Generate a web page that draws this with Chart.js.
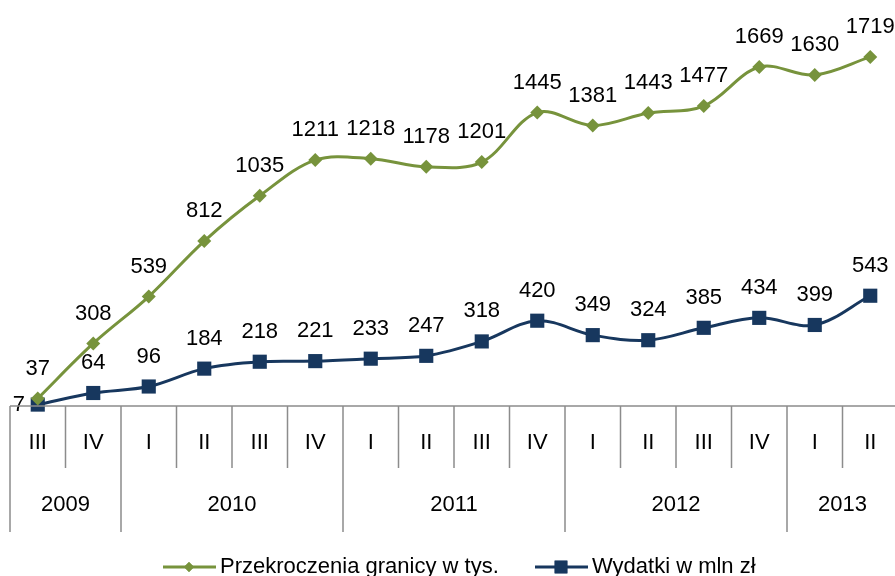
<!DOCTYPE html>
<html>
<head>
<meta charset="utf-8">
<script src="https://cdn.jsdelivr.net/npm/chart.js@4.4.1/dist/chart.umd.min.js"></script>
<style>
  html, body { margin: 0; padding: 0; background: #fff; overflow: hidden; }
  canvas { display: block; }
</style>
</head>
<body>
<canvas id="chart" width="908" height="576"></canvas>
<script>
// data
const quarters = ['III', 'IV', 'I', 'II', 'III', 'IV', 'I', 'II', 'III', 'IV', 'I', 'II', 'III', 'IV', 'I', 'II'];
const years = ['2009', '2010', '2011', '2012', '2013'];
const yearSpans = [2, 4, 4, 4, 2]; // quarters per year
const crossings = [37, 308, 539, 812, 1035, 1211, 1218, 1178, 1201, 1445, 1381, 1443, 1477, 1669, 1630, 1719];
const spending = [7, 64, 96, 184, 218, 221, 233, 247, 318, 420, 349, 324, 385, 434, 399, 543];

const GREEN = '#77933c';
const NAVY = '#17375e';
const FONT = '"Liberation Sans", Arial, sans-serif';
const GRID = '#8c8c8c';

// value labels above the points
const valueLabels = {
    id: 'valueLabels',
    afterDatasetsDraw(chart) {
        const ctx = chart.ctx;
        ctx.save();
        ctx.font = '22px ' + FONT;
        ctx.fillStyle = '#000';
        ctx.textAlign = 'center';
        ctx.textBaseline = 'middle';
        chart.data.datasets.forEach((ds, di) => {
            chart.getDatasetMeta(di).data.forEach((pt, i) => {
                if (di === 1 && i === 0) {
                    ctx.fillText(ds.data[i], pt.x - 19, pt.y);
                } else {
                    ctx.fillText(ds.data[i], pt.x, pt.y - 30);
                }
            });
        });
        ctx.restore();
    }
};

// two-row category axis (quarters + years) and legend
const axisBoxes = {
    id: 'axisBoxes',
    afterDraw(chart) {
        const ctx = chart.ctx;
        const x = chart.scales.x;
        const top = chart.chartArea.bottom;
        const step = x.getPixelForValue(1) - x.getPixelForValue(0);
        const edge = i => x.getPixelForValue(i) - step / 2;
        ctx.save();
        ctx.strokeStyle = GRID;
        ctx.lineWidth = 1.5;
        ctx.beginPath();
        ctx.moveTo(edge(0), top);
        ctx.lineTo(chart.width, top);
        // quarter separators
        for (let i = 1; i < quarters.length; i++) {
            ctx.moveTo(edge(i), top);
            ctx.lineTo(edge(i), top + 62);
        }
        // year separators
        let idx = 0;
        ctx.font = '22px ' + FONT;
        ctx.fillStyle = '#000';
        ctx.textAlign = 'center';
        ctx.textBaseline = 'middle';
        years.forEach((yr, k) => {
            ctx.moveTo(edge(idx), top);
            ctx.lineTo(edge(idx), top + 126);
            const mid = (edge(idx) + edge(idx + yearSpans[k])) / 2;
            ctx.fillText(yr, mid, top + 99);
            idx += yearSpans[k];
        });
        ctx.stroke();

        // legend
        const ly = 567;
        const starts = [163, 535];
        chart.data.datasets.forEach((ds, di) => {
            const lx = starts[di];
            ctx.strokeStyle = ds.borderColor;
            ctx.fillStyle = ds.backgroundColor;
            ctx.lineWidth = 3;
            ctx.beginPath();
            ctx.moveTo(lx, ly);
            ctx.lineTo(lx + 53, ly);
            ctx.stroke();
            Chart.helpers.drawPoint(ctx, { pointStyle: ds.pointStyle, radius: di === 0 ? 5 : 9, borderWidth: 0 }, lx + 26, ly);
            ctx.fill();
            ctx.fillStyle = '#000';
            ctx.textAlign = 'left';
            ctx.fillText(ds.label, lx + 57, ly);
        });
        ctx.restore();
    }
};

new Chart(document.getElementById('chart'), {
    type: 'line',
    data: {
        labels: quarters,
        datasets: [
            {
                label: 'Przekroczenia granicy w tys.',
                data: crossings,
                borderColor: GREEN,
                backgroundColor: GREEN,
                borderWidth: 3,
                pointStyle: 'rectRot',
                pointRadius: 7,
                pointBorderWidth: 0,
                tension: 0.35,
                clip: false
            },
            {
                label: 'Wydatki w mln zł',
                data: spending,
                borderColor: NAVY,
                backgroundColor: NAVY,
                borderWidth: 3,
                pointStyle: 'rect',
                pointRadius: 10,
                pointBorderWidth: 0,
                tension: 0.35,
                clip: false
            }
        ]
    },
    options: {
        responsive: false,
        animation: false,
        layout: { padding: { left: 10, right: 0, top: 0, bottom: 44 } },
        plugins: {
            legend: { display: false },
            tooltip: { enabled: false }
        },
        scales: {
            x: {
                offset: true,
                grid: { display: false },
                border: { display: false },
                ticks: {
                    color: '#000',
                    font: { family: FONT, size: 22 },
                    padding: 16,
                    maxRotation: 0,
                    autoSkip: false
                },
                afterFit(scale) { scale.height = 126; }
            },
            y: {
                display: false,
                min: 0,
                max: 1950
            }
        }
    },
    plugins: [valueLabels, axisBoxes]
});
</script>
</body>
</html>
